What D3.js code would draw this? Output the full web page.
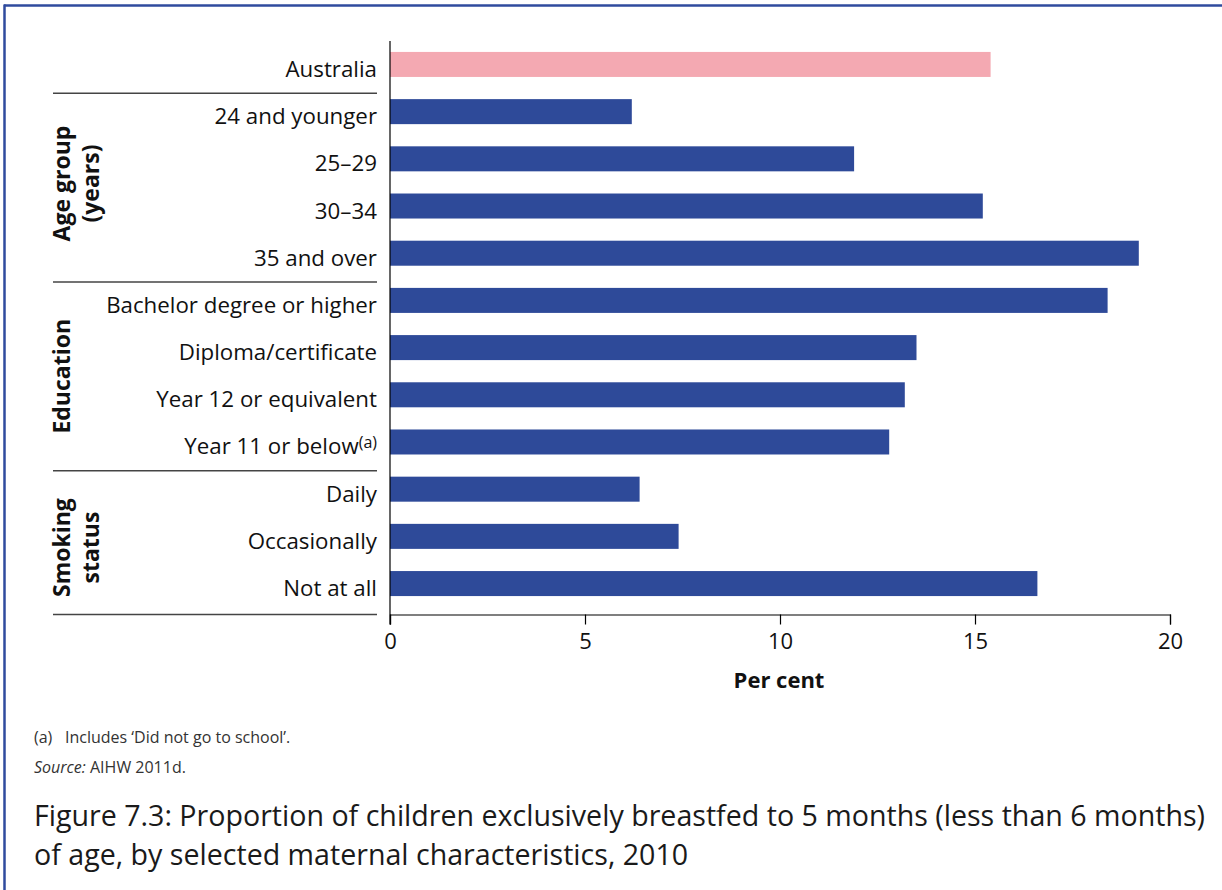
<!DOCTYPE html>
<html>
<head>
<meta charset="utf-8">
<script src="https://cdn.jsdelivr.net/npm/d3@7"></script>
<style>
  html, body { margin: 0; padding: 0; background: #fff; }
  svg { display: block; font-family: "Open Sans", "Noto Sans", sans-serif; }
</style>
</head>
<body>
<svg id="chart" width="1222" height="890"></svg>
<script>
// ---- data ----
const categories = [
  "Australia",
  "24 and younger", "25–29", "30–34", "35 and over",
  "Bachelor degree or higher", "Diploma/certificate", "Year 12 or equivalent", "Year 11 or below",
  "Daily", "Occasionally", "Not at all"
];
const values = [15.4, 6.2, 11.9, 15.2, 19.2, 18.4, 13.5, 13.2, 12.8, 6.4, 7.4, 16.6];
const superscripts = ["", "", "", "", "", "", "", "", "(a)", "", "", ""];
const groupLabels = [["Age group", "(years)"], ["Education"], ["Smoking", "status"]];
const groupFirst = ["24 and younger", "Bachelor degree or higher", "Daily"];
const groupLast = ["35 and over", "Year 11 or below", "Not at all"];
const xTicks = [0, 5, 10, 15, 20];
const xTitle = "Per cent";
const footnoteMark = "(a)";
const footnote = "Includes ‘Did not go to school’.";
const sourceLabel = "Source:";
const sourceText = " AIHW 2011d.";
const titleLines = [
  "Figure 7.3: Proportion of children exclusively breastfed to 5 months (less than 6 months)",
  "of age, by selected maternal characteristics, 2010"
];

// ---- layout ----
const svg = d3.select("#chart");
const W = 1222, H = 890;
const blue = "#2e4a99", pink = "#f4a9b2", frame = "#2f4b9e";

// frame (top + left)
svg.append("line").attr("x1", 4).attr("x2", W).attr("y1", 5.5).attr("y2", 5.5)
  .attr("stroke", frame).attr("stroke-width", 2.5);
svg.append("line").attr("x1", 4.5).attr("x2", 4.5).attr("y1", 4.5).attr("y2", H)
  .attr("stroke", frame).attr("stroke-width", 2.5);

const x = d3.scaleLinear().domain([0, 20]).range([390, 1170]);
const y = d3.scaleBand().domain(categories).range([34, 614])
  .paddingInner(0.47).paddingOuter(0.38);

const axisY = 614.5;

// bars
svg.append("g").selectAll("rect").data(categories).join("rect")
  .attr("x", x(0))
  .attr("y", d => y(d))
  .attr("width", (d, i) => x(values[i]) - x(0))
  .attr("height", y.bandwidth())
  .attr("fill", (d, i) => i === 0 ? pink : blue);

// x axis
const xAxis = d3.axisBottom(x).tickValues(xTicks).tickSize(10).tickSizeOuter(10).tickPadding(9);
const gx = svg.append("g").attr("transform", `translate(0,${axisY})`).call(xAxis);
gx.select(".domain").attr("stroke", "#000").attr("stroke-width", 1.2);
gx.selectAll(".tick line").attr("stroke", "#000").attr("stroke-width", 1.2);
gx.selectAll(".tick text").attr("font-size", 22).attr("fill", "#111")
  .attr("font-family", "\"Open Sans\", sans-serif");

// vertical axis line
svg.append("line").attr("x1", x(0)).attr("x2", x(0)).attr("y1", 41).attr("y2", axisY + 10)
  .attr("stroke", "#000").attr("stroke-width", 1.2);

// x title
svg.append("text").attr("x", (x(0) + x(20)) / 2 - 1).attr("y", 688)
  .attr("text-anchor", "middle").attr("font-size", 22).attr("font-weight", "bold")
  .attr("fill", "#111").text(xTitle);

// category labels
const labelX = 377;
const lab = svg.append("g").selectAll("text").data(categories).join("text")
  .attr("x", labelX)
  .attr("y", d => y(d) + y.bandwidth())
  .attr("text-anchor", "end").attr("font-size", 22.3).attr("fill", "#111");
lab.append("tspan").text(d => d);
lab.filter((d, i) => superscripts[i]).append("tspan")
  .attr("font-size", 16).attr("dy", -6).text((d) => superscripts[categories.indexOf(d)]);

// separators
const sepLeft = 53, sepRight = 377;
const sepYs = groupFirst.map(c => y(c) - 6);
sepYs.push(axisY);
svg.append("g").selectAll("line").data(sepYs).join("line")
  .attr("x1", sepLeft).attr("x2", sepRight)
  .attr("y1", d => d).attr("y2", d => d)
  .attr("stroke", "#444").attr("stroke-width", 1.5);

// group labels (rotated)
const groupShift = [-4, 0, 5];
groupLabels.forEach((lines, gi) => {
  const top = sepYs[gi], bottom = sepYs[gi + 1];
  const cy = (top + bottom) / 2 + groupShift[gi];
  const t = svg.append("text")
    .attr("transform", `translate(0,${cy}) rotate(-90)`)
    .attr("text-anchor", "middle").attr("font-size", 23).attr("font-weight", "bold")
    .attr("fill", "#111");
  lines.forEach((ln, li) => {
    t.append("tspan").attr("x", 0).attr("y", 70 + li * 29).text(ln);
  });
});

// footnotes
svg.append("text").attr("x", 34).attr("y", 743).attr("font-size", 16).attr("fill", "#333")
  .text(footnoteMark);
svg.append("text").attr("x", 65).attr("y", 743).attr("font-size", 16).attr("fill", "#333")
  .text(footnote);
const src = svg.append("text").attr("x", 34).attr("y", 773).attr("font-size", 16).attr("fill", "#333");
src.append("tspan").attr("font-style", "italic").text(sourceLabel);
src.append("tspan").text(sourceText);

// title
svg.append("g").selectAll("text").data(titleLines).join("text")
  .attr("x", 34).attr("y", (d, i) => 826 + i * 39)
  .attr("font-size", 28.6).attr("fill", "#1a1a1a").text(d => d);
</script>
</body>
</html>
